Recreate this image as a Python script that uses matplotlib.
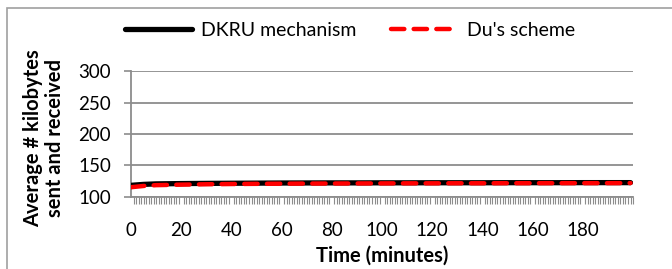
import numpy as np
import matplotlib
matplotlib.use("Agg")
import matplotlib.pyplot as plt
from matplotlib.patches import Rectangle

minutes = [0, 5, 10, 20, 30, 40, 50, 60, 70, 80, 90, 100,
           110, 120, 130, 140, 150, 160, 170, 180, 190, 199]
dkru = [118.5, 120.0, 120.8, 121.3, 121.6, 121.8, 122.0, 122.2, 122.3, 122.4, 122.4, 122.5,
        122.5, 122.6, 122.6, 122.6, 122.7, 122.7, 122.7, 122.8, 122.8, 122.8]
du = [115.5, 117.5, 118.8, 119.6, 120.2, 120.6, 120.9, 121.1, 121.3, 121.4, 121.5, 121.6,
      121.7, 121.7, 121.8, 121.8, 121.9, 121.9, 122.0, 122.0, 122.0, 122.1]
xticks = list(range(0, 200, 20))
yticks = [100, 150, 200, 250, 300]

plt.rcParams['font.family'] = ['Lato', 'DejaVu Sans']
grey = '#8c8c8c'

## Plotting
fig = plt.figure(figsize=(6.72, 2.69), dpi=100)
ax = fig.add_axes([0.195, 0.2677, 0.747, 0.4683])

ax.plot(minutes, dkru, color='black', lw=3.8, solid_capstyle='round',
        label='DKRU mechanism', zorder=3)
ax.plot(minutes, du, color='#ff0000', lw=3.2, dashes=(3.0, 2.1),
        dash_capstyle='round', label="Du's scheme", zorder=4)

ax.set_xlim(0, 200)
ax.set_ylim(100, 300)
ax.set_yticks(yticks)
ax.set_xticks(xticks)
ax.set_xticks(np.arange(0, 201, 1), minor=True)
ax.tick_params(axis='x', which='major', length=0, pad=18, labelsize=13.5)
ax.tick_params(axis='x', which='minor', length=5, width=0.8, color=grey)
ax.tick_params(axis='y', which='major', length=5, width=1.2, color=grey,
               labelsize=13.5, pad=9.5)
ax.yaxis.grid(True, color=grey, lw=1.3)
ax.set_axisbelow(True)
for s in ['top', 'right']:
    ax.spines[s].set_visible(False)
for s in ['left', 'bottom']:
    ax.spines[s].set_color(grey)
    ax.spines[s].set_linewidth(1.3)

ax.set_xlabel('Time (minutes)', fontsize=14.5, fontweight='bold', va='center')
ax.xaxis.set_label_coords(0.5, -0.468)
ax.set_ylabel('Average # kilobytes\nsent and received', fontsize=14.5,
              fontweight='bold', linespacing=1.12, va='center')
ax.yaxis.set_label_coords(-0.174, 0.47)

fig.legend(loc='center', bbox_to_anchor=(0.521, 0.888), ncol=2, frameon=False,
           fontsize=14, handlelength=3.45, columnspacing=1.8, handletextpad=0.45)

# outer chart frame (runs off the right and bottom edges)
fig.patches.append(Rectangle((0.011, -0.05), 1.1, 1.02, transform=fig.transFigure,
                             fill=False, edgecolor='#a0a0a0', lw=1.2))

fig.savefig('out.png', dpi=100)
